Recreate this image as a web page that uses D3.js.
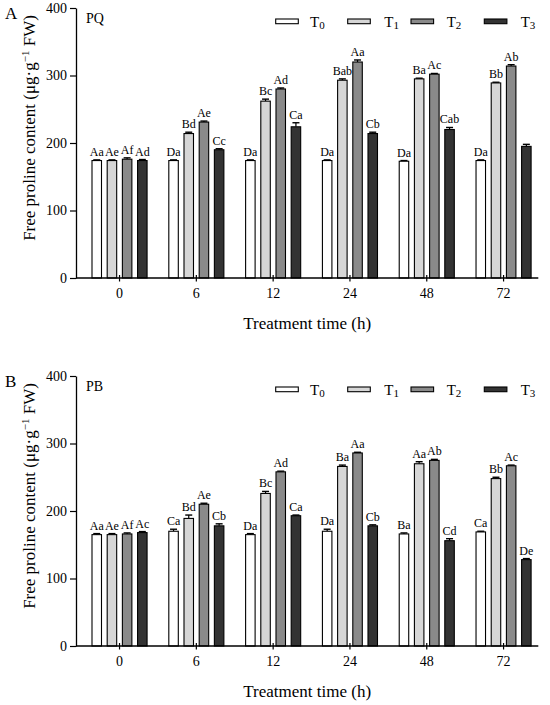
<!DOCTYPE html>
<html>
<head>
<meta charset="utf-8">
<script src="https://cdn.jsdelivr.net/npm/d3@7"></script>
<style>
  html, body { margin: 0; padding: 0; background: #fff; }
  svg { display: block; }
  svg text { font-family: "Liberation Serif", "Times New Roman", "DejaVu Serif", serif; }
</style>
</head>
<body>
<svg id="chart" width="550" height="705"></svg>
<script>
// ---------- DATA ----------
const times = ["0", "6", "12", "24", "48", "72"];
const series = ["T0", "T1", "T2", "T3"];
const yTicks = [0, 100, 200, 300, 400];

// Panel A (PQ): rows = time, columns = T0..T3
const pqMeans = [
  [174, 174, 176, 174],
  [174, 214, 231, 190],
  [174, 262, 280, 224],
  [174, 293, 320, 214],
  [173, 295, 302, 220],
  [174, 289, 314, 195]
];
const pqErrors = [
  [1, 1, 2, 1.5],
  [1, 2, 1.5, 1.5],
  [1, 3, 1.5, 6],
  [1, 2, 3, 2],
  [1, 1, 1, 3],
  [1, 1, 2, 3]
];
const pqLetters = [
  ["Aa", "Ae", "Af", "Ad"],
  ["Da", "Bd", "Ae", "Cc"],
  ["Da", "Bc", "Ad", "Ca"],
  ["Da", "Bab", "Aa", "Cb"],
  ["Da", "Ba", "Ac", "Cab"],
  ["Da", "Bb", "Ab", ""]
];

// Panel B (PB)
const pbMeans = [
  [165, 165, 166, 168],
  [170, 189, 210, 178],
  [165, 226, 258, 193],
  [170, 266, 286, 178],
  [166, 270, 275, 156],
  [169, 248, 267, 128]
];
const pbErrors = [
  [1.5, 1.5, 1.5, 1.5],
  [3, 5, 1.5, 3],
  [1.5, 3, 1, 1],
  [3, 2, 1, 1.5],
  [1.5, 3, 1.5, 3],
  [1, 2, 1, 1.5]
];
const pbLetters = [
  ["Aa", "Ae", "Af", "Ac"],
  ["Ca", "Bd", "Ae", "Cb"],
  ["Da", "Bc", "Ad", "Ca"],
  ["Da", "Ba", "Aa", "Cb"],
  ["Ba", "Aa", "Ab", "Cd"],
  ["Ca", "Bb", "Ac", "De"]
];

// ---------- DRAWING ----------
const FONT = '"Liberation Serif", "Times New Roman", "DejaVu Serif", serif';
const svg = d3.select("#chart");
const fills = d3.scaleOrdinal().domain(series).range(["#ffffff", "#d6d6d6", "#8a8a8a", "#333333"]);

const x0 = d3.scaleBand().domain(times).range([92, 531.1]).paddingInner(0.283).paddingOuter(0);
const x1 = d3.scaleBand().domain(series).range([0, x0.bandwidth()]).paddingInner(0.375).paddingOuter(0);

function txt(sel) { return sel.attr("font-family", FONT).attr("fill", "#000"); }

function drawPanel(offY, letter, title, means, errs, letters) {
  const g = svg.append("g").attr("transform", `translate(0,${offY})`);
  const y = d3.scaleLinear().domain([0, 400]).range([278, 8]);
  const axisLeft = 76, axisRight = 538.3;

  // y axis
  const ya = g.append("g").attr("transform", `translate(${axisLeft},0)`)
    .call(d3.axisLeft(y).tickValues(yTicks).tickSize(6).tickPadding(3).tickSizeOuter(0));
  ya.attr("font-family", FONT);
  ya.select(".domain").attr("stroke", "#000").attr("stroke-width", 1.3);
  ya.selectAll(".tick line").attr("stroke", "#000").attr("stroke-width", 1.2);
  txt(ya.selectAll(".tick text")).attr("font-size", 14);

  // bars
  times.forEach((t, i) => {
    const grp = g.append("g").attr("transform", `translate(${x0(t)},0)`);
    series.forEach((s, j) => {
      const v = means[i][j], e = errs[i][j];
      const bx = x1(s), bw = x1.bandwidth();
      const cx = bx + bw / 2;
      grp.append("line").attr("x1", cx).attr("x2", cx)
        .attr("y1", y(v)).attr("y2", y(v + e)).attr("stroke", "#000").attr("stroke-width", 1.2);
      grp.append("line").attr("x1", cx - 3.5).attr("x2", cx + 3.5)
        .attr("y1", y(v + e)).attr("y2", y(v + e)).attr("stroke", "#000").attr("stroke-width", 1.4);
      grp.append("rect").attr("x", bx).attr("y", y(v)).attr("width", bw)
        .attr("height", y(0) - y(v)).attr("fill", fills(s)).attr("stroke", "#000").attr("stroke-width", 1.1);
      if (letters[i][j]) {
        txt(grp.append("text")).attr("x", cx).attr("y", y(v + e) - 4)
          .attr("text-anchor", "middle").attr("font-size", 12)
          .text(letters[i][j]);
      }
    });
  });

  // x axis line + ticks
  g.append("line").attr("x1", axisLeft).attr("x2", axisRight)
    .attr("y1", y(0)).attr("y2", y(0)).attr("stroke", "#000").attr("stroke-width", 1.3);
  times.forEach(t => {
    const cx = x0(t) + x0.bandwidth() / 2;
    g.append("line").attr("x1", cx).attr("x2", cx)
      .attr("y1", y(0) - 3).attr("y2", y(0) + 3.5).attr("stroke", "#000").attr("stroke-width", 1.2);
    txt(g.append("text")).attr("x", cx).attr("y", 298).attr("text-anchor", "middle")
      .attr("font-size", 14).text(t);
  });

  // axis titles
  txt(g.append("text")).attr("x", (axisLeft + axisRight) / 2).attr("y", 329)
    .attr("text-anchor", "middle").attr("font-size", 17)
    .text("Treatment time (h)");

  const yl = txt(g.append("text")).attr("transform", "translate(35,128) rotate(-90)")
    .attr("text-anchor", "middle").attr("font-size", 17);
  yl.append("tspan").text("Free proline content (μg·g");
  yl.append("tspan").attr("dy", -6).attr("font-size", 11).text("−1");
  yl.append("tspan").attr("dy", 6).text(" FW)");

  // panel letter & title
  txt(g.append("text")).attr("x", 5).attr("y", 19).attr("font-size", 17).text(letter);
  txt(g.append("text")).attr("x", 86).attr("y", 23).attr("font-size", 14).text(title);

  // legend
  const boxX = [275.7, 347.7, 411, 484.3];
  const txtX = [310, 384.3, 446.7, 520.7];
  series.forEach((s, j) => {
    g.append("rect").attr("x", boxX[j]).attr("y", 19).attr("width", 22.6).attr("height", 4.7)
      .attr("fill", fills(s)).attr("stroke", "#000").attr("stroke-width", 1.1);
    const tx = txt(g.append("text")).attr("x", txtX[j]).attr("y", 26.5).attr("font-size", 15);
    tx.append("tspan").text(s.charAt(0));
    tx.append("tspan").attr("dy", 2).attr("font-size", 11).text(s.slice(1));
  });
}

drawPanel(0, "A", "PQ", pqMeans, pqErrors, pqLetters);
drawPanel(368, "B", "PB", pbMeans, pbErrors, pbLetters);
</script>
</body>
</html>
